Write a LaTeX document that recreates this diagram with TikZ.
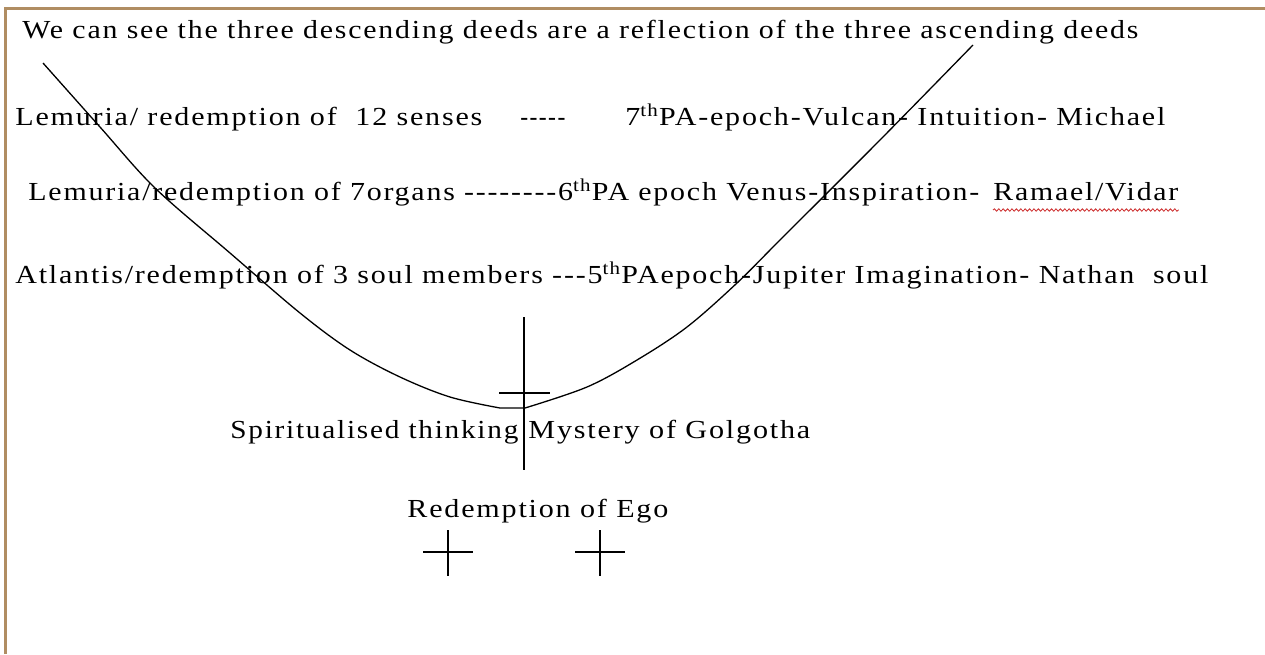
\documentclass[tikz,border=0pt]{standalone}
\usepackage{fontspec}
\setmainfont{Liberation Serif}[LetterSpace=6]
\usepackage{graphicx}
\usetikzlibrary{decorations.pathmorphing}

% stretch a text to a width given in pixels
\newlength\fitlen
\newcommand\fitto[2]{\settowidth\fitlen{#2}\pgfmathsetmacro\fitratio{0.5*#1/\fitlen}\scalebox{\fitratio}[1]{#2}}

\definecolor{framebrown}{RGB}{176,141,98}
\definecolor{spellred}{RGB}{205,45,45}

\tikzset{
  textline/.style={anchor=base west, inner sep=0pt, font=\fontsize{13}{15}\selectfont},
  bowl/.style={line width=0.65pt},
  crossbar/.style={line width=0.9pt},
  frameline/.style={framebrown, line width=1.5pt},
  spell/.style={spellred, line width=0.4pt, decorate, decoration={snake, amplitude=0.6pt, segment length=2.2pt}}
}

\begin{document}
\begin{tikzpicture}[x=0.5pt, y=-0.5pt]
  \useasboundingbox (0,0) rectangle (1265,654);
  \fill[white] (0,0) rectangle (1265,654);
  \draw[frameline] (5,654) -- (5,8) -- (1265,8);

  \node[textline] (title) at (22,38) {\fitto{1116}{We can see the three descending deeds are a reflection of the three ascending deeds}};

  \node[textline] (lem12) at (15,125) {\fitto{467}{Lemuria/ redemption of\ \ 12 senses}};
  \node[textline] (dash7) at (520,125) {\fitto{45}{-{}-{}-{}-{}-}};
  \node[textline] (pa7) at (625,125) {\fitto{540}{7\textsuperscript{th}PA-epoch-Vulcan- Intuition- Michael}};

  \node[textline] (lem7) at (28,200) {\fitto{951}{Lemuria/redemption of 7organs -{}-{}-{}-{}-{}-{}-{}-6\textsuperscript{th}PA epoch Venus-Inspiration-}};
  \node[textline] (vidar) at (993,200) {\fitto{185}{Ramael/Vidar}};
  \draw[spell] ([yshift=-5pt]vidar.base west) -- ([yshift=-5pt]vidar.base east);

  \node[textline] (atl) at (15,283) {\fitto{1193}{Atlantis/redemption of 3 soul members -{}-{}-5\textsuperscript{th}PAepoch-Jupiter Imagination- Nathan\ \ soul}};

  \node[textline] (think) at (230,438) {\fitto{288}{Spiritualised thinking}};
  \node[textline] (golg) at (528,438) {\fitto{282}{Mystery of Golgotha}};
  \node[textline] (ego) at (407,517) {\fitto{261}{Redemption of Ego}};

  % the descending and ascending curve
  \draw[bowl] plot[smooth, tension=0.55] coordinates {(43,63) (100,127) (155,188) (230,253) (300,313)
    (350,350) (400,377) (450,397) (500,408)} -- (525,408)
    plot[smooth, tension=0.55] coordinates {(525,408) (587,387) (637,360) (687,327) (737,283)
    (780,240) (880,140) (973,45)};

  % crosses
  \draw[crossbar] (524,317) -- (524,470);
  \draw[crossbar] (499,393) -- (550,393);
  \foreach \cx in {448,600} {
    \draw[crossbar] (\cx,530) -- (\cx,576);
    \draw[crossbar] (\cx-25,552) -- (\cx+25,552);
  }
\end{tikzpicture}
\end{document}
